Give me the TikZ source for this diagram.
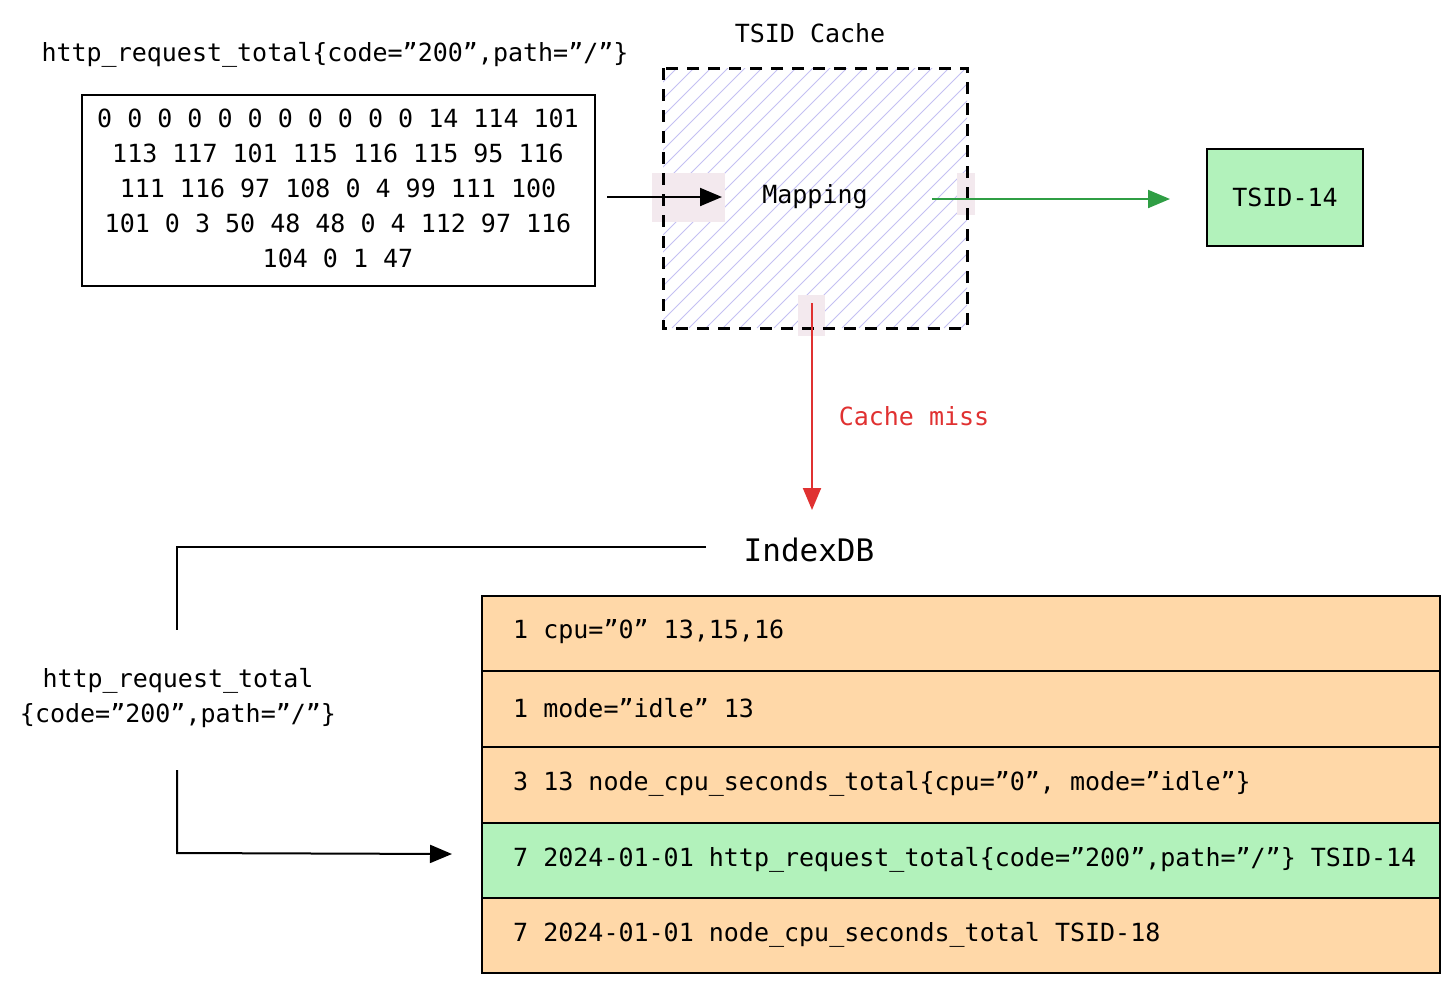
\documentclass[tikz,border=0pt]{standalone}
\usepackage{fontspec}
\setmainfont{DejaVu Sans Mono}
\usetikzlibrary{arrows.meta}
\definecolor{grn}{HTML}{B2F2BB}
\definecolor{org}{HTML}{FFD8A8}
\definecolor{hatch}{HTML}{C4C0F2}
\definecolor{patch}{HTML}{F3E9EE}
\definecolor{redc}{HTML}{E03131}
\definecolor{grnl}{HTML}{2F9E44}
\tikzset{
  txt/.style={font=\fontsize{25}{35}\selectfont, inner sep=0pt},
  arr/.style={line width=2pt, -{Triangle[length=22pt,width=18pt]}},
  box/.style={draw=black, line width=2.5pt},
}
\begin{document}
\begin{tikzpicture}[x=1pt,y=-1pt]
\useasboundingbox (0,0) rectangle (1456,991);
\node[txt] (hdr) at (335,55) {http\_request\_total\{code="200",path="/"\}};
\node[box, minimum width=513pt, minimum height=191pt] (src) at (338.5,190.5) {};
\node[txt, align=center] (srct) at (338,188) {0 0 0 0 0 0 0 0 0 0 0 14 114 101\\113 117 101 115 116 115 95 116\\111 116 97 108 0 4 99 111 100\\101 0 3 50 48 48 0 4 112 97 116\\104 0 1 47};
\node[txt] (cachel) at (810,33) {TSID Cache};
\begin{scope}
\clip (663,68) rectangle (967,328);
\foreach \i in {0,...,40} {
  \draw[hatch, line width=1pt] (663+\i*17-280,328) -- (663+\i*17,48);
}
\end{scope}
\fill[patch] (652,173) rectangle (725,222);
\fill[patch] (957,173) rectangle (975,215);
\fill[patch] (798,295) rectangle (825,336);
\draw[line width=3pt, dash pattern=on 12pt off 9pt] (663,68) rectangle (967,328);
\node[minimum width=304pt, minimum height=260pt] (cache) at (815,198) {};
\node[txt] (map) at (815,197) {Mapping};
\coordinate (a1) at (607,197);
\coordinate (a1e) at (722,197);
\draw[arr] (a1) -- (a1e);
\node[box, fill=grn, minimum width=156pt, minimum height=97pt] (tsid) at (1285,197.5) {};
\node[txt] at (tsid) {TSID-14};
\coordinate (g1) at (932,199);
\draw[arr, grnl] (g1) -- (1170,199);
\coordinate (r1) at (812,303);
\coordinate (r2) at (812,510);
\draw[arr, redc] (r1) -- (r2);
\node[txt, text=redc] (miss) at (914,416) {Cache miss};
\node[font=\fontsize{31}{36}\selectfont, inner sep=0pt] (idx) at (809,550) {IndexDB};
\coordinate (l1) at (706,547);
\coordinate (l2) at (177,547);
\coordinate (l3) at (177,630);
\draw[line width=2.5pt] (l1) -- (l2) -- (l3);
\node[txt, align=center] (left) at (178,698) {http\_request\_total\\\{code="200",path="/"\}};
\coordinate (m1) at (177,770);
\coordinate (m2) at (177,853);
\coordinate (m3) at (452,854);
\draw[arr] (m1) -- (m2) -- (m3);
% table
\fill[org] (482,596) rectangle (1440,973);
\fill[grn] (482,823) rectangle (1440,898);
\foreach \y in {671,747,823,898} \draw[line width=1.5pt] (482,\y) -- (1440,\y);
\draw[box] (482,596) rectangle (1440,973);
\node[txt, anchor=west] (t1) at (513,632) {1 cpu="0" 13,15,16};
\node[txt, anchor=west] (t2) at (513,708) {1 mode="idle" 13};
\node[txt, anchor=west] (t3) at (513,784) {3 13 node\_cpu\_seconds\_total\{cpu="0", mode="idle"\}};
\node[txt, anchor=west] (t4) at (513,860) {7 2024-01-01 http\_request\_total\{code="200",path="/"\} TSID-14};
\node[txt, anchor=west] (t5) at (513,935) {7 2024-01-01 node\_cpu\_seconds\_total TSID-18};
\end{tikzpicture}
\end{document}
